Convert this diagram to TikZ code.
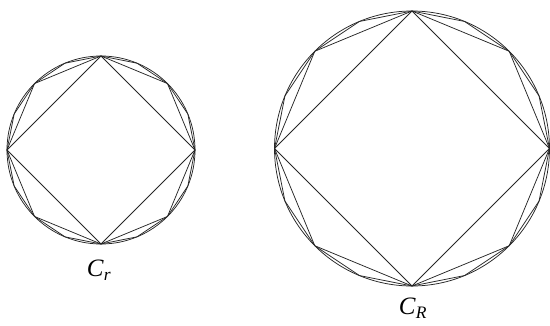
\documentclass[tikz,border=0pt]{standalone}
\usepackage{fontspec}
\setmainfont{Liberation Serif}
\begin{document}
\begin{tikzpicture}[x=1pt,y=-1pt,
  fig/.style={line width=0.75pt, draw=black!85, line join=round},
  lab/.style={font=\fontsize{25}{28}\selectfont, inner sep=0pt}]
\useasboundingbox (0,0) rectangle (550,325);
\foreach \cx/\cy/\r in {101/150/94, 412/148.5/137.5}{
  \draw[fig] (\cx,\cy) circle[radius=\r];
  \foreach \n in {4,8,16}{
    \pgfmathtruncatemacro\ns{\n+1}
    \draw[fig] plot[domain=0:360, samples=\ns, variable=\t]
      ({\cx+\r*cos(\t)},{\cy+\r*sin(\t)}) -- cycle;
  }
}
\node[lab] (cr) at (99,270) {\textit{C}\textsubscript{\textit{r}}};
\node[lab] (cR) at (413,308) {\textit{C}\textsubscript{\textit{R}}};
\end{tikzpicture}
\end{document}
